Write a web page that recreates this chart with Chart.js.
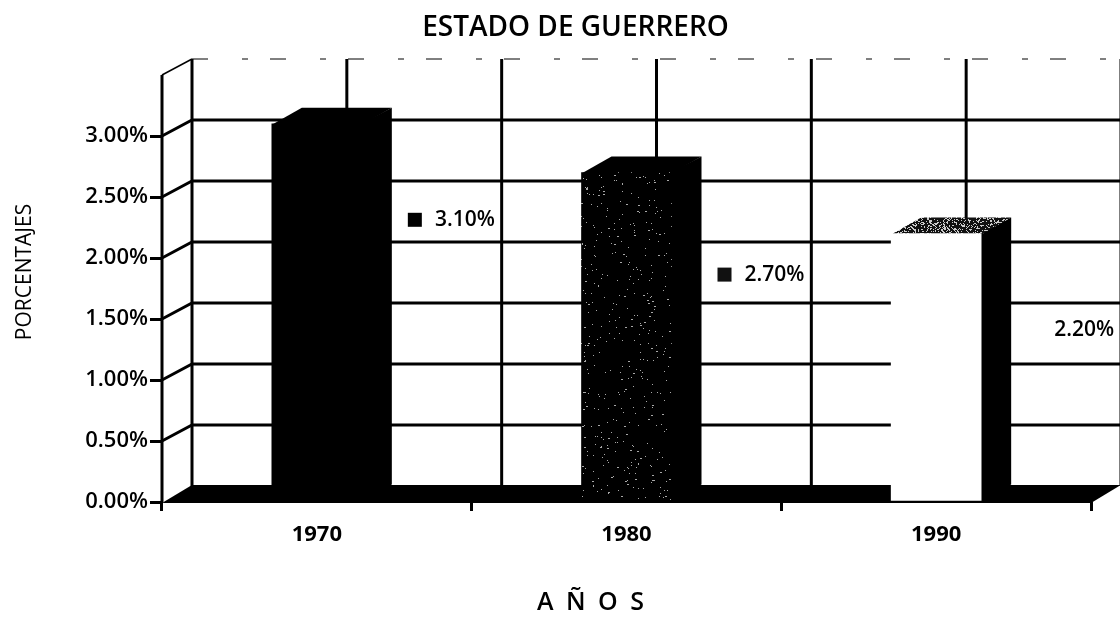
<!DOCTYPE html>
<html>
<head>
<meta charset="utf-8">
<style>html,body{margin:0;padding:0;background:#fff}canvas{display:block}</style>
<script src="https://cdn.jsdelivr.net/npm/chart.js@4/dist/chart.umd.min.js"></script>
</head>
<body>
<canvas id="c" width="1120" height="618"></canvas>
<script>
const categories = ['1970', '1980', '1990'];
const values = [3.10, 2.70, 2.20];
const valueLabels = ['3.10%', '2.70%', '2.20%'];
const chartTitle = 'ESTADO DE GUERRERO';
const yTitle = 'PORCENTAJES';
const xTitle = 'A Ñ O S';

const FONT = '"Open Sans", Lato, sans-serif';
const depthX = 30, depthY = 16;
const labelOffsets = [96, 102, 96];
const keyColors = ['#000', '#111', null];

// Fixed (non-data) speckle texture for the printed stipple look
function stipple(bg, fg, count, w, h) {
  const p = document.createElement('canvas');
  p.width = w; p.height = h;
  const g = p.getContext('2d');
  g.fillStyle = bg; g.fillRect(0, 0, w, h);
  g.fillStyle = fg;
  let s = 12345;
  const next = () => { s = (Math.imul(s, 1664525) + 1013904223) >>> 0; return s >>> 12; };
  for (let i = 0; i < count; i++) {
    const x = next() % w, y = next() % h;
    g.fillRect(x, y, 1 + (i % 5 === 0 ? 1 : 0), 1);
  }
  return document.createElement('canvas').getContext('2d').createPattern(p, 'repeat');
}
const barFaces = ['#000', stipple('#000', '#a8a8a8', 420, 90, 330), '#fff'];
const topFaces = ['#000', '#000', stipple('#111', '#ccc', 500, 120, 16)];

const scene = {
  id: 'scene',
  beforeDatasetsDraw(chart) {
    const { ctx, scales: { x, y } } = chart;
    const L = x.left, R = x.right, B = y.bottom, T = y.top;
    const W = chart.width;
    ctx.save();
    ctx.strokeStyle = '#000';
    ctx.lineCap = 'butt';
    [0.5, 1, 1.5, 2, 2.5, 3].forEach(v => {
      const py = y.getPixelForValue(v);
      ctx.lineWidth = 3;
      ctx.beginPath();
      ctx.moveTo(L, py);
      ctx.lineTo(L + depthX, py - depthY);
      ctx.lineTo(W, py - depthY);
      ctx.stroke();
    });
    const half = (R - L) / categories.length / 2;
    ctx.lineWidth = 3;
    for (let i = 0; i <= 6; i++) {
      const px = L + depthX + i * half;
      ctx.beginPath();
      ctx.moveTo(px, T - depthY);
      ctx.lineTo(px, B - depthY);
      ctx.stroke();
    }
    ctx.lineWidth = 1;
    ctx.setLineDash([16, 34, 6, 22]);
    ctx.beginPath();
    ctx.moveTo(L + depthX, T - depthY);
    ctx.lineTo(W, T - depthY);
    ctx.stroke();
    ctx.setLineDash([]);
    ctx.lineWidth = 1.5;
    ctx.beginPath();
    ctx.moveTo(L, T);
    ctx.lineTo(L + depthX, T - depthY);
    ctx.stroke();
    ctx.lineWidth = 3;
    ctx.beginPath();
    ctx.moveTo(L, T);
    ctx.lineTo(L, B);
    ctx.stroke();
    ctx.fillStyle = '#000';
    ctx.beginPath();
    ctx.moveTo(L, B + 1);
    ctx.lineTo(L + depthX, B - depthY - 1);
    ctx.lineTo(R + depthX, B - depthY - 1);
    ctx.lineTo(R, B + 1);
    ctx.closePath();
    ctx.fill();
    chart.getDatasetMeta(0).data.forEach((bar, i) => {
      const hw = bar.width / 2, l = bar.x - hw, r = bar.x + hw, t = bar.y, b = bar.base;
      ctx.fillStyle = '#000';
      ctx.beginPath();
      ctx.moveTo(r - 1, t); ctx.lineTo(r + depthX, t - depthY);
      ctx.lineTo(r + depthX, b - depthY); ctx.lineTo(r - 1, b);
      ctx.closePath(); ctx.fill();
      ctx.fillStyle = topFaces[i];
      ctx.beginPath();
      ctx.moveTo(l, t + 1); ctx.lineTo(l + depthX, t - depthY);
      ctx.lineTo(r + depthX, t - depthY); ctx.lineTo(r, t + 1);
      ctx.closePath(); ctx.fill();
    });
    ctx.restore();
  },
  afterDatasetsDraw(chart) {
    const { ctx } = chart;
    ctx.save();
    ctx.textBaseline = 'middle';
    ctx.textAlign = 'right';
    ctx.font = '600 21px ' + FONT;
    chart.getDatasetMeta(0).data.forEach((bar, i) => {
      const r = bar.x + bar.width / 2;
      const cy = bar.y + labelOffsets[i];
      ctx.fillStyle = '#000';
      ctx.fillText(valueLabels[i], r + 133, cy);
      if (keyColors[i]) {
        ctx.fillStyle = keyColors[i];
        ctx.fillRect(r + 46, cy - 7, 14, 14);
      }
    });
    ctx.fillStyle = '#000';
    ctx.textAlign = 'center';
    ctx.font = '600 25px ' + FONT;
    ctx.letterSpacing = '3px';
    ctx.fillText(xTitle, 592, 603);
    ctx.letterSpacing = '0px';
    ctx.translate(25, 272);
    ctx.rotate(-Math.PI / 2);
    ctx.font = '500 21px ' + FONT;
    ctx.fillText(yTitle, 0, 0);
    ctx.restore();
  },
  afterLayout(chart) {
    if (chart.titleBlock) { chart.titleBlock.left += 30; chart.titleBlock.right += 30; }
  }
};

new Chart(document.getElementById('c'), {
  type: 'bar',
  data: {
    labels: categories,
    datasets: [{
      label: 'Porcentajes',
      data: values,
      backgroundColor: barFaces,
      borderWidth: 0,
      barThickness: 90
    }]
  },
  plugins: [scene],
  options: {
    responsive: false,
    animation: false,
    devicePixelRatio: 1,
    layout: { padding: { left: 0, right: 29, top: 0, bottom: 0 } },
    plugins: {
      legend: { display: false },
      tooltip: { enabled: false },
      title: {
        display: true,
        text: chartTitle,
        color: '#000',
        font: { family: FONT, size: 28, weight: '600', lineHeight: 1.2 },
        padding: { top: 11, bottom: 30.4 }
      }
    },
    scales: {
      x: {
        offset: true,
        afterFit(s) { s.height = 116; },
        grid: { drawOnChartArea: false, color: '#000', lineWidth: 3, tickLength: 9, drawTicks: true },
        border: { display: false },
        ticks: { color: '#000', padding: 11, font: { family: FONT, size: 22, weight: 'bold' } }
      },
      y: {
        min: 0,
        max: 3.5,
        afterFit(s) { s.width = 162; },
        grid: {
          drawOnChartArea: false,
          lineWidth: 3,
          tickLength: 12,
          color: c => (c.tick && c.tick.value > 3 ? 'rgba(0,0,0,0)' : '#000')
        },
        border: { display: false },
        ticks: {
          stepSize: 0.5,
          color: '#000',
          padding: 2,
          font: { family: FONT, size: 22, weight: '600' },
          callback: v => (v > 3 ? '' : v.toFixed(2) + '%')
        }
      }
    }
  }
});
</script>
</body>
</html>
